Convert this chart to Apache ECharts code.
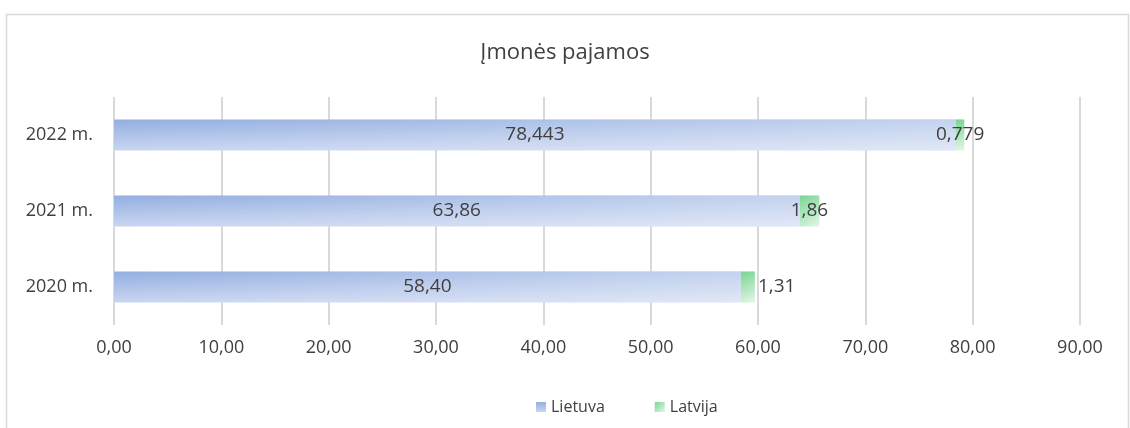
<!DOCTYPE html>
<html>
<head>
<meta charset="utf-8">
<script src="https://cdn.jsdelivr.net/npm/echarts@6/dist/echarts.min.js"></script>
<style>
html,body{margin:0;padding:0;background:#fff;}
#chart{width:1130px;height:428px;}
</style>
</head>
<body>
<div id="chart"></div>
<script>
const title = 'Įmonės pajamos';
const categories = ['2020 m.', '2021 m.', '2022 m.'];
const lietuva = [58.40, 63.86, 78.443];
const latvija = [1.31, 1.86, 0.779];
const lietuvaDecimals = [2, 2, 3];
const latvijaDecimals = [2, 2, 3];
const xTicks = { min: 0, max: 90, interval: 10 };

const fmt = (v, d) => v.toFixed(d).replace('.', ',');
const FONT = '"Open Sans", sans-serif';

const chart = echarts.init(document.getElementById('chart'), null, { renderer: 'canvas' });

const blueGrad = new echarts.graphic.LinearGradient(0, 0, 0, 1, [
  { offset: 0, color: '#93aee1' },
  { offset: 1, color: '#c9d6f0' }
]);
const whiteOverlay = new echarts.graphic.LinearGradient(0, 0, 1, 0, [
  { offset: 0, color: 'rgba(255,255,255,0)' },
  { offset: 1, color: 'rgba(255,255,255,0.45)' }
]);
const greenGrad = new echarts.graphic.LinearGradient(0, 0, 1, 1, [
  { offset: 0, color: '#78d592' },
  { offset: 1, color: '#e4f6e8' }
]);

const option = {
  animation: false,
  backgroundColor: '#fff',
  graphic: [{
    type: 'rect', left: 4, top: 12, silent: true,
    shape: { width: 1122, height: 425 },
    style: { fill: 'none', stroke: '#d9d9d9', lineWidth: 1.5 }
  }],
  title: {
    text: title, left: 'center', top: 37,
    textStyle: { fontFamily: FONT, fontSize: 22, fontWeight: 'normal', color: '#404040' }
  },
  legend: {
    data: ['Lietuva', 'Latvija'],
    left: 531, top: 394,
    itemWidth: 10, itemHeight: 10, itemGap: 50,
    icon: 'rect',
    textStyle: { fontFamily: FONT, fontSize: 16, color: '#404040' }
  },
  grid: { left: 114, right: 50, top: 97, bottom: 103, containLabel: false },
  xAxis: {
    type: 'value', min: xTicks.min, max: xTicks.max, interval: xTicks.interval,
    axisLine: { show: false }, axisTick: { show: false },
    splitLine: { show: true, lineStyle: { color: '#d9d9d9', width: 2 } },
    axisLabel: { fontFamily: FONT, fontSize: 18, color: '#404040', margin: 14,
      formatter: v => fmt(v, 2) }
  },
  yAxis: {
    type: 'category', data: categories,
    axisLine: { show: false }, axisTick: { show: false },
    axisLabel: { fontFamily: FONT, fontSize: 18, color: '#404040', margin: 21 }
  },
  series: [
    {
      name: 'Lietuva', type: 'bar', stack: 'a', barCategoryGap: '59%', barGap: '-100%',
      itemStyle: { color: blueGrad },
      data: lietuva,
      label: { show: true, position: 'inside', fontFamily: FONT, fontSize: 19, color: '#404040',
        formatter: p => fmt(p.value, lietuvaDecimals[p.dataIndex]) }
    },
    {
      name: 'Latvija', type: 'bar', stack: 'a',
      itemStyle: { color: greenGrad },
      data: latvija.map((v, i) => i === 0 ? { value: v, label: { position: 'right', distance: 3 } } : v),
      label: { show: true, position: 'inside', fontFamily: FONT, fontSize: 19, color: '#404040',
        formatter: p => fmt(p.value, latvijaDecimals[p.dataIndex]) }
    },
    {
      name: 'shade', type: 'bar', stack: 'b', silent: true, barGap: '-100%',
      itemStyle: { color: whiteOverlay },
      data: lietuva,
      label: { show: false }, tooltip: { show: false }
    }
  ]
};
chart.setOption(option);
</script>
</body>
</html>
